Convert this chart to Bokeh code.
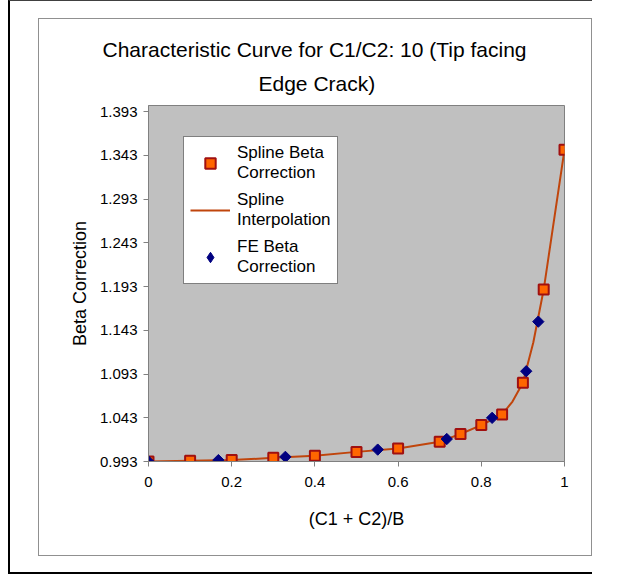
from bokeh.plotting import figure
from bokeh.layouts import column
from bokeh.models import FixedTicker, Legend, LegendItem, Title
from bokeh.embed import file_html
from bokeh.resources import INLINE

# Spline beta correction (squares)
spline_x = [0.0, 0.1, 0.2, 0.3, 0.4, 0.5, 0.6, 0.7, 0.75, 0.8, 0.85, 0.9, 0.95, 1.0]
spline_y = [0.993, 0.9938, 0.9946, 0.9972, 0.9995, 1.004, 1.0078, 1.0157, 1.0244, 1.0346, 1.0467, 1.083, 1.1896, 1.3495]

# Spline interpolation curve
curve_x = [0.0, 0.1, 0.2, 0.3, 0.4, 0.5, 0.6, 0.7, 0.75, 0.8, 0.85, 0.875, 0.9, 0.925, 0.95, 1.0]
curve_y = [0.993, 0.9938, 0.9946, 0.9972, 0.9995, 1.004, 1.0078, 1.0157, 1.0244, 1.0346, 1.0467, 1.0615, 1.083, 1.129, 1.1896, 1.3495]

# FE beta correction (diamonds)
fe_x = [0.0, 0.168, 0.329, 0.551, 0.717, 0.826, 0.908, 0.937]
fe_y = [0.993, 0.9946, 0.9983, 1.0066, 1.0187, 1.0429, 1.0962, 1.1529]

x_ticks = [0, 0.2, 0.4, 0.6, 0.8, 1]
x_tick_labels = ["0", "0.2", "0.4", "0.6", "0.8", "1"]
y_ticks = [0.993, 1.043, 1.093, 1.143, 1.193, 1.243, 1.293, 1.343, 1.393]
y_tick_labels = ["0.993", "1.043", "1.093", "1.143", "1.193", "1.243", "1.293", "1.343", "1.393"]

FONT = "Liberation Sans"

p = figure(width=554, height=538, x_range=(0, 1), y_range=(0.993, 1.4),
           output_backend="svg", toolbar_location=None,
           min_border_left=109, min_border_right=29, min_border_top=86, min_border_bottom=96,
           margin=(17, 0, 16, 28))
p.styles = {"border": "1px solid #909090"}
p.title = None
p.add_layout(Title(text="Edge Crack)", align="left", offset=110, text_font=FONT,
                   text_font_size="21px", text_font_style="normal", text_color="black",
                   standoff=21), "above")
p.add_layout(Title(text="Characteristic Curve for C1/C2: 10 (Tip facing", align="left",
                   offset=-46, text_font=FONT, text_font_size="21px",
                   text_font_style="normal", text_color="black", standoff=-2), "above")

p.background_fill_color = "#C0C0C0"
p.border_fill_color = "white"
p.outline_line_color = "#808080"
p.grid.visible = False

p.xaxis.ticker = FixedTicker(ticks=x_ticks)
p.xaxis.major_label_overrides = dict(zip(x_ticks, x_tick_labels))
p.yaxis.ticker = FixedTicker(ticks=y_ticks)
p.yaxis.major_label_overrides = dict(zip(y_ticks, y_tick_labels))
for ax in (p.xaxis, p.yaxis):
    ax.axis_line_color = "#808080"
    ax.major_tick_line_color = "#808080"
    ax.major_tick_out = 5
    ax.major_tick_in = 0
    ax.minor_tick_line_color = None
    ax.major_label_text_font = FONT
    ax.major_label_text_font_size = "15px"
    ax.major_label_text_color = "black"
    ax.axis_label_text_font = FONT
    ax.axis_label_text_font_size = "18px"
    ax.axis_label_text_font_style = "normal"
    ax.axis_label_text_color = "black"
p.xaxis.axis_label = "(C1 + C2)/B"
p.yaxis.axis_label = "Beta Correction"
p.xaxis.major_label_standoff = 10
p.xaxis.axis_label_standoff = 19
p.yaxis.major_label_standoff = 6
p.yaxis.axis_label_standoff = 7

line = p.line(curve_x, curve_y, line_color="#C0450C", line_width=2, line_join="round")
sq = p.scatter(spline_x, spline_y, marker="square", size=10, fill_color="#FF6600",
               line_color="#A01010", line_width=2)
dm = p.scatter(fe_x, fe_y, marker="square", angle=0.785398, size=8, fill_color="#000080",
               line_color="#000080")
# legend swatch for the diamonds (not drawn in the plot area)
dm_key = p.scatter(fe_x, fe_y, marker="diamond", size=13, fill_color="#000080",
                   line_color="#000080", visible=False)

legend = Legend(items=[
    LegendItem(label="Spline Beta\nCorrection", renderers=[sq]),
    LegendItem(label="Spline\nInterpolation", renderers=[line]),
    LegendItem(label="FE Beta\nCorrection", renderers=[dm_key]),
], location=(35, 177))
legend.label_text_font = FONT
legend.label_text_font_size = "17px"
legend.label_text_line_height = 1.32
legend.label_text_color = "black"
legend.glyph_width = 40
legend.glyph_height = 26
legend.label_standoff = 7
legend.spacing = 7
legend.border_line_color = "black"
legend.background_fill_color = "white"
legend.background_fill_alpha = 1
legend.padding = 6
legend.margin = 0
legend.inactive_fill_alpha = 0
p.add_layout(legend, "center")

layout = column(p, margin=(0, 0, 0, 8),
                styles={"border-left": "2px solid black", "border-bottom": "2px solid black",
                        "border-top": "1px solid #404040"})

open("out.html", "w").write(file_html(layout, INLINE))
